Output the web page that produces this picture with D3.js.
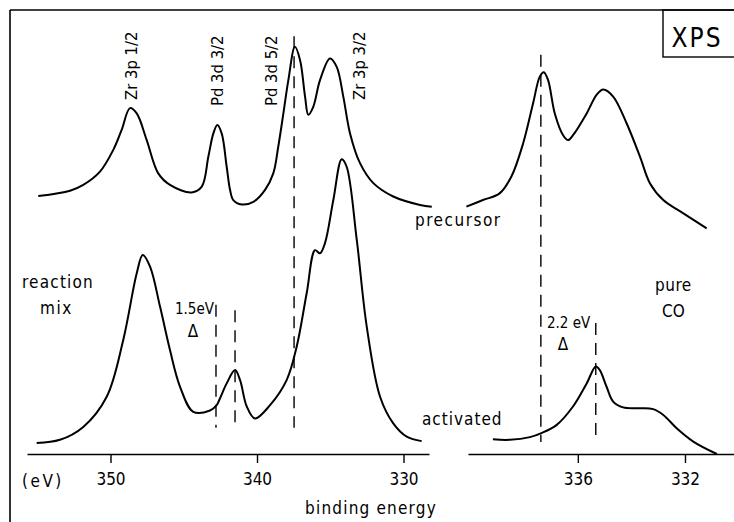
<!DOCTYPE html>
<html>
<head>
<meta charset="utf-8">
<script src="https://cdn.jsdelivr.net/npm/d3@7"></script>
<style>
  body { margin: 0; background: #fff; }
  svg text { font-family: "DejaVu Sans Condensed", "Liberation Sans Narrow", "DejaVu Sans", sans-serif; fill: #000; }
</style>
</head>
<body>
<div id="chart"></div>
<script>
// XPS spectra, binding energy (eV) vs intensity (arb. units, 0-100)

// left panel, precursor
let precursorE = [354.93, 352.76, 351.86, 350.72, 349.81, 349.24, 348.67, 348.21, 347.53, 346.74, 345.94, 344.46, 343.77, 343.32, 342.98, 342.71, 342.41, 342.07, 341.84, 341.62, 341.04, 340.25, 339.45, 338.89, 338.55, 338.20, 337.86, 337.41, 337.06, 336.72, 336.50, 336.16, 335.70, 335.02, 334.56, 334.11, 333.65, 332.97, 332.06, 330.70, 328.87, 328.07]
let precursorI = [58.1, 59.3, 60.6, 63.6, 68.5, 73.0, 77.9, 76.7, 70.7, 63.2, 60.6, 58.9, 60.2, 67.0, 72.2, 74.1, 72.2, 64.7, 59.5, 57.2, 56.2, 56.8, 59.5, 63.2, 69.2, 76.7, 84.2, 91.7, 88.7, 80.5, 76.4, 78.2, 84.2, 89.1, 87.2, 80.5, 72.2, 65.5, 61.0, 58.0, 56.1, 55.7]

// left panel, reaction mix
let reactionE = [355.04, 353.45, 351.86, 350.26, 349.13, 348.21, 347.80, 347.30, 346.62, 345.94, 345.26, 344.35, 343.21, 342.75, 342.53, 342.07, 341.50, 341.16, 340.70, 340.14, 339.11, 337.97, 337.29, 336.61, 336.04, 335.70, 335.36, 334.79, 334.22, 333.88, 333.19, 332.51, 331.60, 330.70, 329.78, 328.76]
let reactionI = [2.5, 3.2, 6.1, 12.9, 25.7, 40.7, 44.8, 42.2, 33.2, 23.4, 15.2, 9.5, 9.8, 11.0, 12.5, 15.9, 18.9, 16.7, 10.7, 8.0, 11.0, 16.7, 24.2, 36.2, 45.9, 45.2, 47.5, 57.2, 66.4, 64.7, 48.2, 28.7, 12.9, 6.9, 3.9, 2.9]

// right panel, pure CO: precursor
let coPrecursorE = [340.16, 339.54, 338.92, 338.48, 338.04, 337.67, 337.42, 337.27, 337.11, 336.86, 336.55, 336.36, 336.18, 335.67, 335.30, 335.05, 334.68, 334.18, 333.68, 333.31, 332.81, 332.06, 331.19]
let coPrecursorI = [55.7, 57.2, 58.7, 62.5, 70.0, 79.0, 85.0, 86.0, 84.2, 76.7, 71.8, 70.7, 71.8, 76.7, 80.9, 82.1, 80.5, 74.5, 67.0, 61.0, 57.2, 54.2, 50.8]

// right panel, pure CO: activated
let activatedE = [339.17, 338.54, 337.79, 337.36, 336.80, 336.18, 335.67, 335.33, 335.18, 334.93, 334.68, 334.31, 333.68, 333.19, 332.81, 332.31, 331.69, 330.81]
let activatedI = [3.3, 3.2, 3.8, 4.7, 6.5, 10.7, 15.9, 19.7, 18.9, 15.2, 11.8, 10.5, 10.3, 10.1, 8.8, 5.8, 2.8, 0.0]

// reference lines (energy, top intensity, bottom intensity)
let leftMarkE = [337.47, 342.80, 341.50]
let leftMarkTop = [94.1, 33.6, 32.4]
let leftMarkBottom = 5.9
let rightMarkE = [337.38, 335.33]
let rightMarkTop = [89.9, 29.5]
let rightMarkBottom = 2.7

let leftTicks = [350, 340, 330]
let rightTicks = [336, 332]

let peakLabels = ['Zr 3p 1/2', 'Pd 3d 3/2', 'Pd 3d 5/2', 'Zr 3p 3/2']
let peakLabelE = [348.19, 342.32, 338.64, 332.63]

let width = 734, height = 522

let svg = d3.select('#chart').append('svg')
  .attr('width', width)
  .attr('height', height)

let xLeft = d3.scaleLinear().domain([355.7, 328.26]).range([27, 429])
let xRight = d3.scaleLinear().domain([340.1, 330.17]).range([468, 734])
let y = d3.scaleLinear().domain([0, 100]).range([454, 10])

// frame lines
svg.append('line').attr('x1', 10).attr('y1', 10).attr('x2', 10).attr('y2', height)
  .attr('stroke', '#000').attr('stroke-width', 1.6)
svg.append('line').attr('x1', 10).attr('y1', 10).attr('x2', width).attr('y2', 10)
  .attr('stroke', '#000').attr('stroke-width', 1.6)

// XPS box
svg.append('rect').attr('x', 663).attr('y', 10).attr('width', 80).attr('height', 47)
  .attr('fill', 'none').attr('stroke', '#000').attr('stroke-width', 1.4)
svg.append('text').attr('x', 697).attr('y', 47).attr('text-anchor', 'middle')
  .attr('font-size', 26).attr('letter-spacing', 2).text('XPS')

// axes
function drawAxis(scale, ticks) {
  let g = svg.append('g').attr('transform', 'translate(0,' + y(0) + ')')
    .call(d3.axisBottom(scale).tickValues(ticks).tickSizeInner(9).tickSizeOuter(0).tickPadding(10).tickFormat(d3.format('d')))
  g.select('.domain').attr('stroke', '#000').attr('stroke-width', 1.5)
  g.selectAll('.tick line').attr('stroke', '#000').attr('stroke-width', 1.4)
  g.selectAll('.tick text').attr('font-size', 17).attr('font-family', null)
}
drawAxis(xLeft, leftTicks)
drawAxis(xRight, rightTicks)

// spectra
function drawCurve(scale, es, is) {
  let pts = es.map((e, i) => [e, is[i]])
  let line = d3.line()
    .x(d => scale(d[0]))
    .y(d => y(d[1]))
    .curve(d3.curveCatmullRom.alpha(0.5))
  svg.append('path').datum(pts)
    .attr('d', line)
    .attr('fill', 'none')
    .attr('stroke', '#000')
    .attr('stroke-width', 2)
    .attr('stroke-linejoin', 'round')
}
drawCurve(xLeft, precursorE, precursorI)
drawCurve(xLeft, reactionE, reactionI)
drawCurve(xRight, coPrecursorE, coPrecursorI)
drawCurve(xRight, activatedE, activatedI)

// dashed reference lines
function drawMarks(scale, es, tops, bottom) {
  es.forEach((e, i) => {
    svg.append('line')
      .attr('x1', scale(e)).attr('x2', scale(e))
      .attr('y1', y(tops[i])).attr('y2', y(bottom))
      .attr('stroke', '#000').attr('stroke-width', 1.4)
      .attr('stroke-dasharray', '12,8')
  })
}
drawMarks(xLeft, leftMarkE, leftMarkTop, leftMarkBottom)
drawMarks(xRight, rightMarkE, rightMarkTop, rightMarkBottom)

// rotated peak labels
peakLabels.forEach((t, i) => {
  svg.append('text')
    .attr('transform', 'translate(' + xLeft(peakLabelE[i]) + ',' + (i === 1 || i === 2 ? 106 : 100) + ') rotate(-90)')
    .attr('font-size', 16.5)
    .text(t)
})

// annotations
function label(x, yy, t, size, anchor, spacing) {
  svg.append('text').attr('x', x).attr('y', yy)
    .attr('font-size', size || 17)
    .attr('text-anchor', anchor || 'start')
    .attr('letter-spacing', spacing || 0)
    .text(t)
}
label(22, 487, '(eV)', 17, 'start', 2.5)
label(371, 514, 'binding energy', 17, 'middle', 1.2)
label(22, 288, 'reaction', 17, 'start', 1.2)
label(40, 314, 'mix', 17, 'start', 1.5)
label(175, 314, '1.5eV', 15)
label(193, 337, 'Δ', 17, 'middle')
label(415, 226, 'precursor', 17, 'start', 1.5)
label(422, 425, 'activated', 17, 'start', 1)
label(655, 291, 'pure', 17, 'start', 0.5)
label(662, 317, 'CO', 17, 'start', 0)
label(547, 328, '2.2 eV', 15)
label(563, 350, 'Δ', 17, 'middle')
</script>
</body>
</html>
